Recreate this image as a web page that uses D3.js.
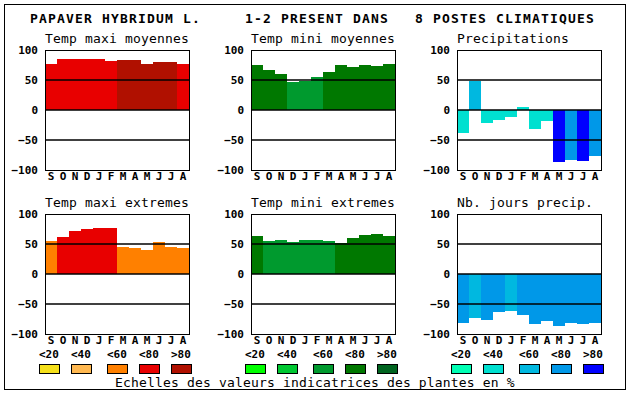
<!DOCTYPE html>
<html>
<head>
<meta charset="utf-8">
<script src="https://cdn.jsdelivr.net/npm/d3@7"></script>
<style>
  body { margin: 0; background: #fff; }
  text { font-family: "DejaVu Sans Mono", monospace; }
</style>
</head>
<body>
<script>
const months = ["S", "O", "N", "D", "J", "F", "M", "A", "M", "J", "J", "A"];
const tickValues = [100, 50, 0, -50, -100];
const scaleLabels = ["<20", "<40", "<60", "<80", ">80"];

const redScale = ["#f5e01a", "#ffb850", "#ff8000", "#e80000", "#b01000"];
const greenScale = ["#00ff00", "#00c832", "#009a2e", "#007800", "#006420"];
const blueScale = ["#00ffb4", "#00e0d0", "#00b8e0", "#0098e8", "#0000ff"];

const panelTitles = ["Temp maxi moyennes", "Temp mini moyennes", "Precipitations",
                     "Temp maxi extremes", "Temp mini extremes", "Nb. jours precip."];

const tempMaxiMoy = [77, 85, 85, 85, 85, 82, 83, 83, 77, 80, 80, 77];
const tempMaxiMoyClass = [3, 3, 3, 3, 3, 3, 4, 4, 4, 4, 4, 3];
const tempMiniMoy = [75, 67, 60, 47, 48, 55, 63, 75, 72, 75, 73, 77];
const tempMiniMoyClass = [3, 3, 3, 2, 2, 2, 3, 3, 3, 3, 3, 3];
const precip = [-38, 49, -21, -17, -12, 5, -32, -18, -87, -83, -85, -77];
const precipClass = [1, 2, 1, 1, 1, 1, 1, 1, 4, 3, 4, 3];
const tempMaxiExt = [55, 62, 72, 75, 77, 77, 45, 43, 40, 53, 45, 43];
const tempMaxiExtClass = [2, 3, 3, 3, 3, 3, 2, 2, 2, 2, 2, 2];
const tempMiniExt = [63, 55, 57, 53, 57, 57, 55, 52, 60, 65, 67, 63];
const tempMiniExtClass = [3, 2, 2, 2, 2, 2, 2, 3, 3, 3, 3, 3];
const nbJours = [-81, -73, -76, -63, -62, -68, -83, -78, -86, -82, -84, -81];
const nbJoursClass = [3, 2, 3, 3, 2, 3, 3, 3, 3, 3, 3, 3];

const width = 630, height = 394;
const boxW = 144, boxH = 120;
const colX = [45, 251, 457], rowY = [50, 214];

const panels = [
  {values: tempMaxiMoy, cls: tempMaxiMoyClass, colors: redScale},
  {values: tempMiniMoy, cls: tempMiniMoyClass, colors: greenScale},
  {values: precip, cls: precipClass, colors: blueScale},
  {values: tempMaxiExt, cls: tempMaxiExtClass, colors: redScale},
  {values: tempMiniExt, cls: tempMiniExtClass, colors: greenScale},
  {values: nbJours, cls: nbJoursClass, colors: blueScale}
];

const svg = d3.select("body").append("svg")
    .attr("width", width)
    .attr("height", height);

svg.append("rect")
    .attr("x", 4.5).attr("y", 4.5)
    .attr("width", 621).attr("height", 385)
    .attr("fill", "none").attr("stroke", "#000");

// title
const titleG = svg.append("g")
    .style("font-size", "13px").style("font-weight", "bold")
    .style("letter-spacing", "1.17px");
[["PAPAVER HYBRIDUM L.", 30], ["1-2 PRESENT DANS", 245], ["8 POSTES CLIMATIQUES", 415]]
  .forEach(([t, x]) => titleG.append("text").attr("x", x).attr("y", 23).text(t));

const x = d3.scaleBand().domain(d3.range(12)).range([0, boxW]);
const y = d3.scaleLinear().domain([-100, 100]).range([boxH, 0]);

panels.forEach((p, i) => {
  const g = svg.append("g")
      .attr("transform", `translate(${colX[i % 3]},${rowY[Math.floor(i / 3)]})`);

  g.append("text")
      .attr("y", -7)
      .style("font-size", "13px").style("letter-spacing", "0.17px")
      .text(panelTitles[i]);

  g.append("g")
      .attr("shape-rendering", "crispEdges")
    .selectAll("rect")
    .data(p.values)
    .join("rect")
      .attr("x", (d, j) => x(j))
      .attr("width", x.bandwidth())
      .attr("y", d => y(Math.max(0, d)))
      .attr("height", d => Math.abs(y(d) - y(0)))
      .attr("fill", (d, j) => p.colors[p.cls[j]]);

  g.append("g")
      .attr("stroke", "#000").attr("stroke-width", 1.5)
    .selectAll("line")
    .data([50, 0, -50])
    .join("line")
      .attr("x1", 0).attr("x2", boxW)
      .attr("y1", d => y(d)).attr("y2", d => y(d));

  g.append("rect")
      .attr("x", 0.5).attr("y", 0.5)
      .attr("width", boxW).attr("height", boxH)
      .attr("fill", "none").attr("stroke", "#000");

  g.append("g")
      .call(d3.axisLeft(y).tickValues(tickValues).tickSize(0).tickPadding(7))
      .call(a => a.select(".domain").remove())
      .call(a => a.selectAll("text")
          .style("font-family", "DejaVu Sans Mono").style("font-size", "11px")
          .style("font-weight", "bold").attr("fill", "#000"));

  g.append("g")
      .attr("transform", `translate(0,${boxH})`)
      .call(d3.axisBottom(x).tickFormat(j => months[j]).tickSize(0).tickPadding(2))
      .call(a => a.select(".domain").remove())
      .call(a => a.selectAll("text")
          .style("font-family", "DejaVu Sans Mono").style("font-size", "11px")
          .style("font-weight", "bold").attr("fill", "#000"));
});

// legend
const legendX = [39, 245, 451];
const swatchOffset = [0, 32, 68, 100, 132];
[redScale, greenScale, blueScale].forEach((scale, k) => {
  const lg = svg.append("g").attr("transform", `translate(${legendX[k]},0)`);
  lg.selectAll("text")
    .data(scaleLabels)
    .join("text")
      .attr("x", (d, j) => swatchOffset[j])
      .attr("y", 358)
      .style("font-size", "11px").style("font-weight", "bold")
      .text(d => d);
  lg.selectAll("rect")
    .data(scale)
    .join("rect")
      .attr("x", (d, j) => swatchOffset[j] + 0.5)
      .attr("y", 364.5)
      .attr("width", 20).attr("height", 9)
      .attr("fill", d => d)
      .attr("stroke", "#000");
});

svg.append("text")
    .attr("x", 115).attr("y", 387)
    .style("font-size", "13px").style("letter-spacing", "0.17px")
    .text("Echelles des valeurs indicatrices des plantes en %");
</script>
</body>
</html>
